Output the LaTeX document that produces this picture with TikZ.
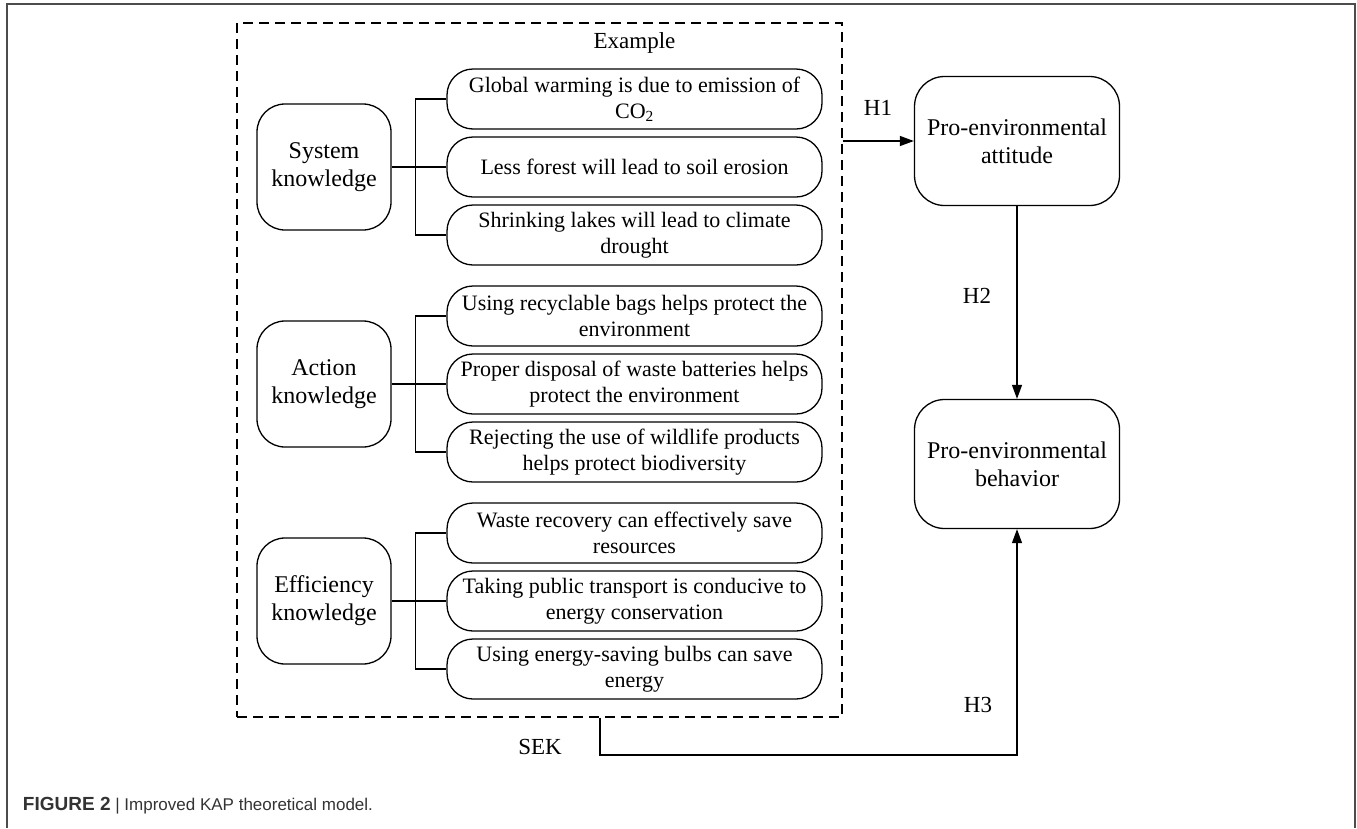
\documentclass[tikz,border=0pt]{standalone}
\usepackage{fontspec}
\setmainfont{Liberation Serif}
\newfontfamily\capfont{Liberation Sans}
\usepackage{tikz}
\usetikzlibrary{arrows.meta,positioning}
\tikzstyle{kbox} = [draw, rounded corners=28pt, minimum width=134pt,
    minimum height=126pt, align=center, font=\fontsize{24}{28}\selectfont]
\tikzstyle{ebox} = [draw, rounded corners=26pt, minimum width=375pt,
    minimum height=60pt, inner sep=0pt, align=center, font=\fontsize{22}{26}\selectfont]
\tikzstyle{pbox} = [draw, rounded corners=30pt, minimum width=205pt,
    minimum height=129pt, align=center, font=\fontsize{24}{28}\selectfont]
\tikzstyle{lbl} = [font=\fontsize{23}{26}\selectfont]
\tikzstyle{arr} = [-{Triangle[length=14pt,width=10pt]}]

\begin{document}
\begin{tikzpicture}[x=1pt, y=-1pt, node distance=68pt, line width=1.3pt]
  \useasboundingbox (0,0) rectangle (1357,828);
  \draw [black!70, line width=1.5pt] (7,828) -- (7,4) -- (1355,4) -- (1355,828);
  \node [draw, dash pattern=on 10pt off 6pt, minimum width=605pt, minimum height=694pt] (ex) at (539.5,370) {};
  \node [lbl] (extitle) at (634.5,43) {Example};

  \node [kbox] (k1) at (324,167) {System\\knowledge};
  \node [ebox] (e12) at (634.5,167) {Less forest will lead to soil erosion};
  \node [ebox, above of=e12] (e11) {Global warming is due to emission of\\CO\textsubscript{2}};
  \node [ebox, below of=e12] (e13) {Shrinking lakes will lead to climate\\drought};

  \node [kbox] (k2) at (324,384) {Action\\knowledge};
  \node [ebox] (e22) at (634.5,384) {Proper disposal of waste batteries helps\\protect the environment};
  \node [ebox, above of=e22] (e21) {Using recyclable bags helps protect the\\environment};
  \node [ebox, below of=e22] (e23) {Rejecting the use of wildlife products\\helps protect biodiversity};

  \node [kbox] (k3) at (324,601) {Efficiency\\knowledge};
  \node [ebox] (e32) at (634.5,601) {Taking public transport is conducive to\\energy conservation};
  \node [ebox, above of=e32] (e31) {Waste recovery can effectively save\\resources};
  \node [ebox, below of=e32] (e33) {Using energy-saving bulbs can save\\energy};

  \draw (k1.east) -- (e12.west);
  \draw (e11.west) -- ++(-31,0) |- (e13.west);
  \draw (k2.east) -- (e22.west);
  \draw (e21.west) -- ++(-31,0) |- (e23.west);
  \draw (k3.east) -- (e32.west);
  \draw (e31.west) -- ++(-31,0) |- (e33.west);

  \node [pbox] (p1) at (1017,141) {Pro-environmental\\attitude};
  \node [pbox, below of=p1, node distance=323pt] (p2) {Pro-environmental\\behavior};

  \coordinate (sek) at (600,755);
  \draw [arr] (ex.east |- p1.west) -- (p1.west);
  \draw [arr] (p1) -- (p2);
  \draw [arr] (ex.south -| sek) -- (sek) -| (p2.south);

  \node [lbl] at (878,108) {H1};
  \node [lbl] at (977,296) {H2};
  \node [lbl] at (978,705) {H3};
  \node [lbl] at (540,747) {SEK};

  \node [anchor=west, text=black!80, font=\capfont\fontsize{17}{20}\selectfont] (cap) at (19,806)
  {{\fontsize{19}{20}\selectfont\textbf{FIGURE 2}} | Improved KAP theoretical model.};
\end{tikzpicture}
\end{document}
